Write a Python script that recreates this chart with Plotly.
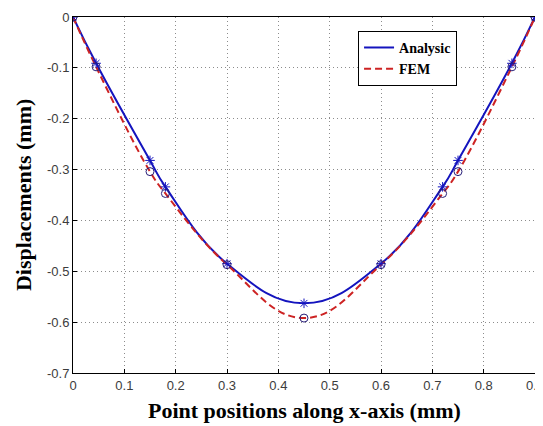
import plotly.graph_objects as go

x_pts = [0, 0.045, 0.15, 0.18, 0.3, 0.45, 0.6, 0.72, 0.75, 0.855, 0.9]
analytic = [0, -0.091, -0.282, -0.334, -0.485, -0.563, -0.485, -0.334, -0.282, -0.091, 0]
fem = [0, -0.098, -0.304, -0.347, -0.487, -0.592, -0.487, -0.347, -0.304, -0.098, 0]

x_ticks = [0, 0.1, 0.2, 0.3, 0.4, 0.5, 0.6, 0.7, 0.8, 0.9]
x_ticktext = ["0", "0.1", "0.2", "0.3", "0.4", "0.5", "0.6", "0.7", "0.8", "0.9"]
y_ticks = [0, -0.1, -0.2, -0.3, -0.4, -0.5, -0.6, -0.7]
y_ticktext = ["0", "-0.1", "-0.2", "-0.3", "-0.4", "-0.5", "-0.6", "-0.7"]

blue = "rgb(20,20,190)"
red = "rgb(205,35,35)"
navy = "rgb(40,30,120)"

fig = go.Figure()
fig.add_trace(go.Scatter(x=x_pts, y=analytic, mode="lines", name="<b>Analysic</b>",
                         line=dict(color=blue, width=2, shape="spline", smoothing=1.2)))
fig.add_trace(go.Scatter(x=x_pts, y=fem, mode="lines", name="<b>FEM</b>",
                         line=dict(color=red, width=2, dash="7px,4px", shape="spline", smoothing=1.2)))
fig.add_trace(go.Scatter(x=x_pts, y=analytic, mode="markers", showlegend=False,
                         marker=dict(symbol="asterisk-open", size=8, color=blue,
                                     line=dict(color=blue, width=1))))
fig.add_trace(go.Scatter(x=x_pts, y=fem, mode="markers", showlegend=False,
                         marker=dict(symbol="circle-open", size=8, color=navy,
                                     line=dict(color=navy, width=1))))

axis_common = dict(showgrid=True, gridcolor="rgb(140,140,140)", griddash="1px,3px", gridwidth=1,
                   showline=True, linecolor="black", linewidth=1, mirror=True,
                   ticks="inside", ticklen=4, tickcolor="black",
                   tickfont=dict(family="Liberation Sans, Arial", size=13, color="rgb(60,60,60)"),
                   zeroline=False, automargin=False, ticklabeloverflow="allow")

fig.update_xaxes(range=[0, 0.9], tickvals=x_ticks, ticktext=x_ticktext, **axis_common)
fig.update_yaxes(range=[-0.7, 0], tickvals=y_ticks, ticktext=y_ticktext, **axis_common)

title_font = dict(family="Liberation Serif, Times New Roman", size=22, color="black")
fig.add_annotation(text="<b>Point positions along x-axis (mm)</b>", xref="paper", yref="paper",
                   x=0.5, y=-0.104, xanchor="center", yanchor="middle", showarrow=False, font=title_font)
fig.add_annotation(text="<b>Displacements (mm)</b>", xref="paper", yref="paper",
                   x=-0.108, y=0.5, xanchor="center", yanchor="middle", textangle=-90,
                   showarrow=False, font=title_font)

# page body has an 8px margin, so the figure is 8px smaller than the window
fig.update_layout(width=535, height=418,
                  margin=dict(l=65, r=8, t=9, b=53),
                  plot_bgcolor="white", paper_bgcolor="white",
                  legend=dict(x=0.617, y=0.961, xanchor="left", yanchor="top",
                              bgcolor="white", bordercolor="black", borderwidth=1,
                              font=dict(family="Liberation Serif, Times New Roman", size=14, color="black"),
                              tracegroupgap=0, itemwidth=30),
                  showlegend=True)

fig.write_html("out.html")
